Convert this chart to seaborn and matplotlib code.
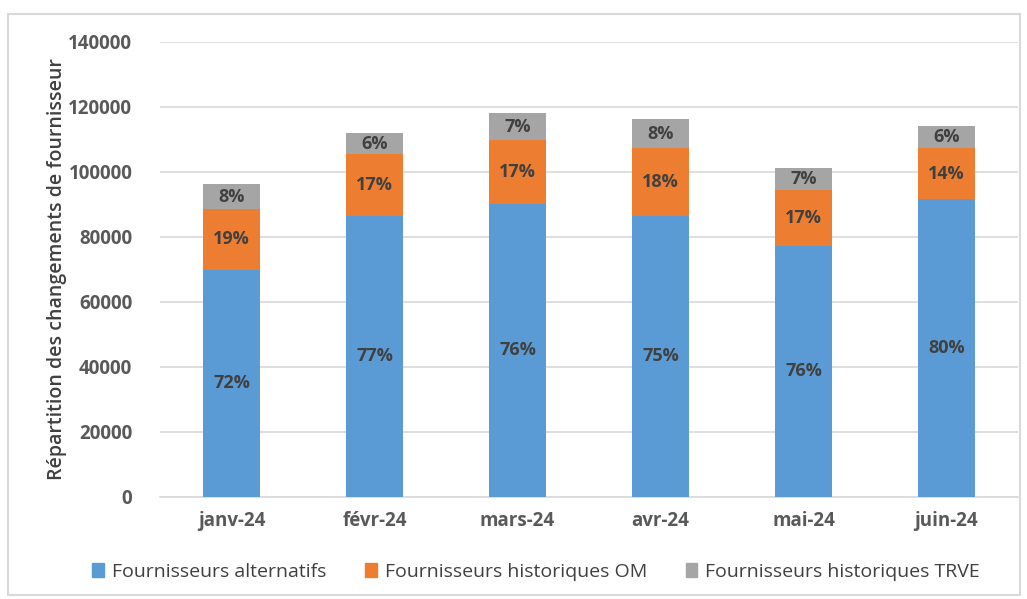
import matplotlib
matplotlib.use("Agg")
import matplotlib.pyplot as plt
import matplotlib.patches as mpatches
import seaborn as sns
import pandas as pd
import numpy as np

# Données
mois = ['janv-24', 'févr-24', 'mars-24', 'avr-24', 'mai-24', 'juin-24']
alternatifs = [69800, 86400, 90000, 86400, 77100, 91500]
historiques_om = [18700, 19100, 19800, 20800, 17200, 15700]
historiques_trve = [7600, 6300, 8200, 9000, 6700, 7000]
pct_alt = ['72%', '77%', '76%', '75%', '76%', '80%']
pct_om = ['19%', '17%', '17%', '18%', '17%', '14%']
pct_trve = ['8%', '6%', '7%', '8%', '7%', '6%']
series = ['Fournisseurs alternatifs', 'Fournisseurs historiques OM', 'Fournisseurs historiques TRVE']
couleurs = ['#5b9bd5', '#ed7d31', '#a5a5a5']

df = pd.DataFrame({'mois': mois, 'alt': alternatifs, 'om': historiques_om, 'trve': historiques_trve})
df['cum_alt'] = df['alt']
df['cum_om'] = df['alt'] + df['om']
df['cum_trve'] = df['cum_om'] + df['trve']

sns.set_theme(style="white")
plt.rcParams['font.family'] = ['Open Sans', 'DejaVu Sans']
texte = '#595959'

fig = plt.figure(figsize=(10.27, 5.99), dpi=100)
ax = fig.add_axes([0.1558, 0.1708, 0.8354, 0.7596])

# Barres empilées (du total vers le bas)
for col, c in zip(['cum_trve', 'cum_om', 'cum_alt'], couleurs[::-1]):
    sns.barplot(data=df, x='mois', y=col, color=c, width=0.4, ax=ax,
                saturation=1, edgecolor='none', zorder=3)

# Étiquettes de pourcentage
for i in range(len(mois)):
    b = df['alt'][i]
    o = df['om'][i]
    t = df['trve'][i]
    for y, s in [(b / 2, pct_alt[i]), (b + o / 2, pct_om[i]), (b + o + t / 2, pct_trve[i])]:
        ax.text(i, y, s, ha='center', va='center', fontsize=13, fontweight='bold', color='#404040', zorder=4)

ax.set_ylim(0, 140000)
ax.set_xlim(-0.5, 5.5)
ax.set_yticks(np.arange(0, 140001, 20000))
ax.yaxis.grid(True, color='#d9d9d9', linewidth=1.2, zorder=0)
ax.set_axisbelow(True)
for s in ['top', 'right', 'left']:
    ax.spines[s].set_visible(False)
ax.spines['bottom'].set_color('#d9d9d9')
ax.spines['bottom'].set_linewidth(1.2)

ax.tick_params(axis='y', length=0, pad=20, labelsize=13.5, labelcolor=texte)
ax.tick_params(axis='x', length=0, pad=10, labelsize=13.5, labelcolor=texte)
ax.set_xticks(np.arange(-0.5, 6, 1), minor=True)
ax.tick_params(axis='x', which='minor', length=5, color='#d9d9d9', width=1.2)
for lab in ax.get_xticklabels() + ax.get_yticklabels():
    lab.set_fontweight('bold')

ax.set_xlabel('')
ax.set_ylabel('Répartition des changements de fournisseur', fontsize=14, color='#404040',
              fontweight='semibold', labelpad=1)

# Légende
poignees = [mpatches.Patch(color=c, label=l) for c, l in zip(couleurs, series)]
fig.legend(handles=poignees, loc='center', bbox_to_anchor=(0.522, 0.045), ncol=3, frameon=False,
           fontsize=14, handlelength=0.6, handleheight=0.7, handletextpad=0.4, columnspacing=2.0,
           labelcolor='#404040')

# Cadre du graphique
fig.patches.append(mpatches.Rectangle((0.008, 0.007), 0.985, 0.97, transform=fig.transFigure,
                                      fill=False, edgecolor='#d9d9d9', linewidth=1.5))

fig.savefig('out.png', dpi=100)
